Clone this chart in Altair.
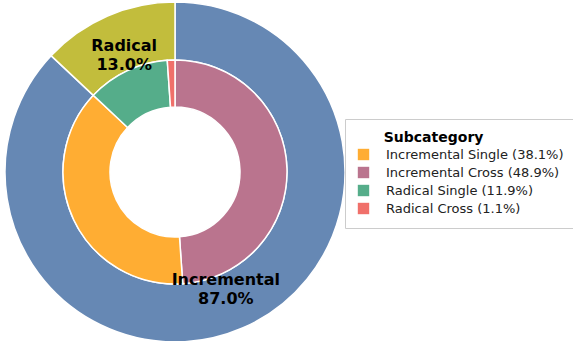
import altair as alt
import pandas as pd

# Outer ring (main category), clockwise from 12 o'clock
outer_cats = ["Incremental", "Radical"]
outer_vals = [87.0, 13.0]
outer_colors = ["#6688b4", "#c2bd3c"]

# Inner ring (subcategory), clockwise from 12 o'clock
inner_cats = ["Incremental Cross", "Incremental Single", "Radical Single", "Radical Cross"]
inner_vals = [48.9, 38.1, 11.9, 1.1]

# Legend order and colours
legend_cats = ["Incremental Single", "Incremental Cross", "Radical Single", "Radical Cross"]
legend_colors = ["#ffad33", "#ba748e", "#55ad8a", "#f0706a"]

outer_df = pd.DataFrame({
    "cat": outer_cats,
    "val": outer_vals,
    "ord": list(range(len(outer_cats))),
    "col": outer_colors,
    "label": [f"{c}\n{v:.1f}%" for c, v in zip(outer_cats, outer_vals)],
})

label_map = {c: f"{c} ({v:.1f}%)" for c, v in zip(inner_cats, inner_vals)}
inner_df = pd.DataFrame({
    "Subcategory": [label_map[c] for c in inner_cats],
    "val": inner_vals,
    "ord": list(range(len(inner_cats))),
})
legend_domain = [label_map[c] for c in legend_cats]

CX, CY = 175, 172

outer = alt.Chart(outer_df).mark_arc(
    outerRadius=170, innerRadius=112, stroke="white", strokeWidth=1.5
).encode(
    theta=alt.Theta("val:Q", stack=True),
    order=alt.Order("ord:Q"),
    color=alt.Color("col:N", scale=None, legend=None),
    x=alt.value(CX),
    y=alt.value(CY),
)

inner = alt.Chart(inner_df).mark_arc(
    outerRadius=112, innerRadius=65, stroke="white", strokeWidth=1.5
).encode(
    theta=alt.Theta("val:Q", stack=True),
    order=alt.Order("ord:Q"),
    color=alt.Color(
        "Subcategory:N",
        scale=alt.Scale(domain=legend_domain, range=legend_colors),
        legend=alt.Legend(
            title="\u2800\u2800 Subcategory",
            orient="none",
            legendX=345,
            legendY=119,
        ),
    ),
    x=alt.value(CX),
    y=alt.value(CY),
)

labels = alt.Chart(outer_df).mark_text(
    radius=128, fontSize=16, fontWeight="bold", font="DejaVu Sans",
    lineBreak="\n", lineHeight=19, color="black", align="center",
    baseline="middle", dy=-9
).encode(
    theta=alt.Theta("val:Q", stack=True),
    order=alt.Order("ord:Q"),
    text="label:N",
    x=alt.value(CX),
    y=alt.value(CY),
)

chart = alt.layer(outer, inner, labels).resolve_scale(
    color="independent"
).properties(
    width=573, height=341,
    autosize=alt.AutoSizeParams(type="none"),
    padding=0,
).configure_view(
    stroke=None
).configure_legend(
    strokeColor="#cccccc",
    fillColor="white",
    padding=12,
    titleFont="DejaVu Sans",
    titleFontSize=14,
    titleFontWeight="bold",
    titleColor="black",
    titlePadding=3,
    labelFont="DejaVu Sans",
    labelFontSize=13,
    labelColor="#222222",
    symbolType="square",
    symbolSize=130,
    symbolStrokeWidth=0,
    symbolOpacity=1,
    rowPadding=4,
    labelOffset=16,
    labelLimit=400,
)

chart.save("out.html", embed_options={"renderer": "svg", "actions": False})
